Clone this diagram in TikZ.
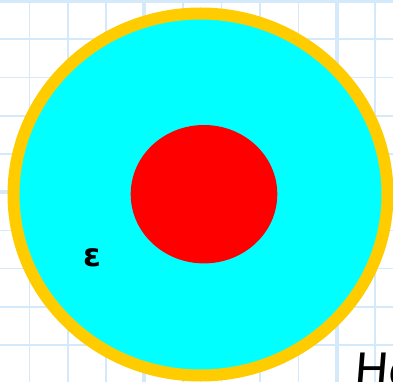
\documentclass[tikz,border=0pt]{standalone}
\usepackage{fontspec}
\newfontfamily\symfont{DejaVu Sans}
\newfontfamily\handfont{DejaVu Sans}
\usetikzlibrary{calc}
\definecolor{gridblue}{RGB}{212,234,250}
\definecolor{ringgold}{RGB}{255,204,0}
\definecolor{mediumcyan}{RGB}{0,255,255}
\definecolor{corered}{RGB}{255,0,0}
\tikzset{
  minorline/.style = {draw=gridblue, line width=1.6pt},
  majorline/.style = {draw=gridblue, line width=4pt},
  ring/.style      = {draw=ringgold, fill=mediumcyan, line width=12pt},
  core/.style      = {fill=corered},
  lbl/.style       = {inner sep=0pt, anchor=center}
}

\begin{document}
\begin{tikzpicture}[x=1pt, y=-1pt]
  \useasboundingbox (0,0) rectangle (393,382);
  \clip (0,0) rectangle (393,382);
  % grid paper
  \foreach \gx in {29.3,67.7,106,182.7,221.3,259.8,298.3,375}
    \draw[minorline] (\gx,0) -- (\gx,382);
  \foreach \gy in {39.3,77.7,116,154,230.5,268.5,306.8,345}
    \draw[minorline] (0,\gy) -- (393,\gy);
  \foreach \gx in {144.3,336.7}
    \draw[majorline] (\gx,0) -- (\gx,382);
  \foreach \gy in {1.5,192.3}
    \draw[majorline] (0,\gy) -- (393,\gy);
  % sphere
  \coordinate (ctr) at (200.5,194.5);
  \draw[ring] (ctr) ellipse [x radius=187, y radius=181];
  \fill[core] (204,194.2) ellipse [x radius=73.3, y radius=69.2];
  \node[lbl] (eps) at (92.5,257.5) {\symfont\bfseries\fontsize{32}{32}\selectfont ε};
  \node[lbl, anchor=base west] (ho) at (353,386)
    {\handfont\fontsize{46}{46}\selectfont\addfontfeature{FakeSlant=0.08}Ho};
\end{tikzpicture}
\end{document}
